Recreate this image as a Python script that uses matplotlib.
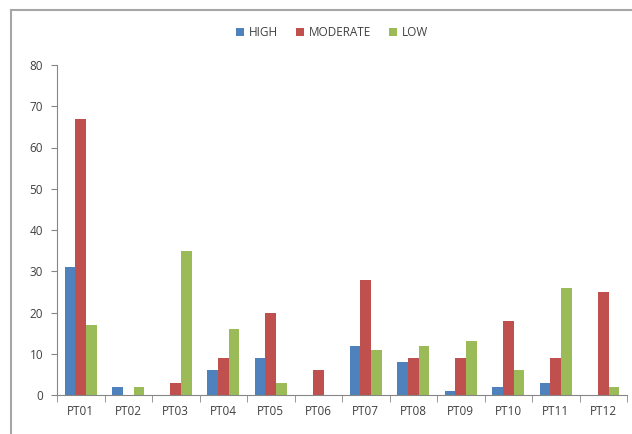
import numpy as np
import matplotlib.pyplot as plt
from matplotlib.lines import Line2D

plt.rcParams['font.family'] = ['Open Sans', 'DejaVu Sans']

# chart data
categories = ['PT01', 'PT02', 'PT03', 'PT04', 'PT05', 'PT06',
              'PT07', 'PT08', 'PT09', 'PT10', 'PT11', 'PT12']
high = [31, 2, 0, 6, 9, 0, 12, 8, 1, 2, 3, 0]
moderate = [67, 0, 3, 9, 20, 6, 28, 9, 9, 18, 9, 25]
low = [17, 2, 35, 16, 3, 0, 11, 12, 13, 6, 26, 2]
series = [('HIGH', high, '#4F81BD'),
          ('MODERATE', moderate, '#C0504D'),
          ('LOW', low, '#9BBB59')]

W, H = 632, 434
fig = plt.figure(figsize=(W / 100, H / 100), dpi=100)
ax = fig.add_axes([57 / W, 39 / H, 570 / W, 330 / H])

# chart-area frame (only top and left edges are visible in the crop)
fig.add_artist(Line2D([11 / W, 1], [1 - 9.5 / H] * 2, color='#a6a6a6', lw=1.5))
fig.add_artist(Line2D([11 / W] * 2, [0, 1 - 9.5 / H], color='#a6a6a6', lw=1.5))

x = np.arange(len(categories))
w = 1 / 4.5
for i, (name, vals, col) in enumerate(series):
    ax.bar(x + (i - 1) * w, vals, w, color=col, label=name)

ax.set_xlim(-0.5, len(categories) - 0.5)
ax.set_ylim(0, 80)
ax.set_yticks(range(0, 81, 10))
ax.set_xticks(x)
ax.set_xticklabels(categories)
ax.set_xticks(np.arange(-0.5, len(categories)), minor=True)
ax.tick_params(axis='x', which='major', length=0, pad=7)
ax.tick_params(axis='x', which='minor', length=5, color='#868686')
ax.tick_params(axis='y', length=4, color='#868686', pad=6)
ax.tick_params(labelsize=8.5, labelcolor='#404040')

for s in ['top', 'right']:
    ax.spines[s].set_visible(False)
for s in ['left', 'bottom']:
    ax.spines[s].set_color('#868686')

fig.legend(loc='upper center', bbox_to_anchor=(0.525, 0.965), ncol=3,
           frameon=False, fontsize=8.5, handlelength=0.7, handleheight=0.7,
           handletextpad=0.4, columnspacing=1.5, labelcolor='#404040')

fig.savefig('out.png', dpi=100)
